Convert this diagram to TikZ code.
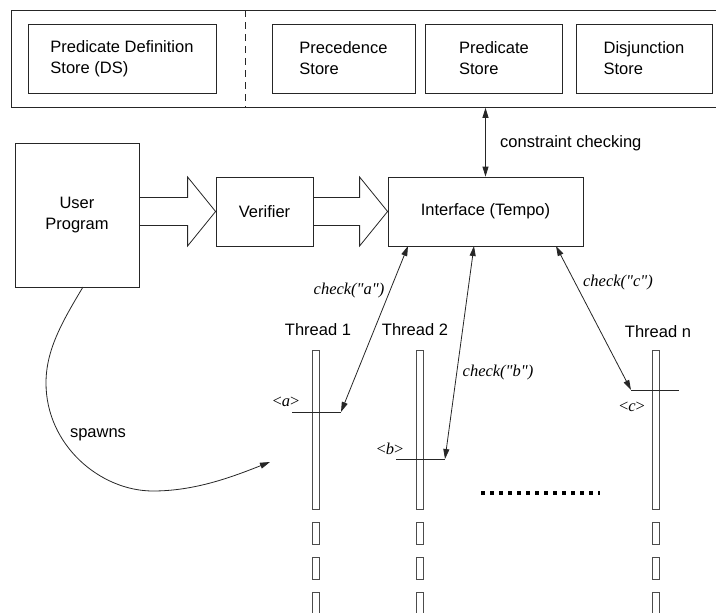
\documentclass[tikz,border=0pt]{standalone}
\usepackage{fontspec}
\setmainfont{Liberation Sans}
\newfontfamily\tms{Liberation Serif}
\usetikzlibrary{arrows.meta,calc}

\tikzset{
  box/.style={draw=black!85, line width=0.8pt, fill=white, inner sep=0pt, align=left,
              font=\fontsize{16.5}{21}\selectfont},
  lbl/.style={inner sep=0pt, font=\fontsize{16.5}{21}\selectfont},
  ital/.style={inner sep=0pt, font=\fontsize{16.5}{21}\selectfont\tms\itshape},
  link/.style={draw=black!85, line width=0.8pt},
  dbl/.style={link, {Triangle[length=10pt,width=6pt]}-{Triangle[length=10pt,width=6pt]}},
  onearrow/.style={link, -{Triangle[length=10pt,width=6pt]}},
  fat/.style={draw=black!85, line width=0.8pt, line join=miter},
  bar/.style={draw=black!70, line width=0.8pt, fill=white},
  tick/.style={draw=black!85, line width=0.8pt}
}

% draws a hollow block arrow from node #1 into the west side of node #2
\newcommand\fatarrow[2]{%
  \draw[fat] ($(#1.east |- #2.west)+(0,-14)$) -| ($(#2.west)+(-28,-34.5)$)
     -- (#2.west) -- ($(#2.west)+(-28,34.5)$) |- ($(#1.east |- #2.west)+(0,14)$);}

% one thread lane: long bar plus the broken continuation below it
\newcommand\lane[1]{%
  \draw[bar] (#1-3.5,350) rectangle (#1+3.5,509);
  \foreach \t in {522,557,592}{\draw[bar] (#1-3.5,\t) rectangle (#1+3.5,\t+22);}}

\begin{document}
\begin{tikzpicture}[x=1pt,y=-1pt]
\path[use as bounding box] (0,0) rectangle (716,613);
\clip (0,0) rectangle (716,613);

% store frame with its four stores
\node[box, minimum width=709pt, minimum height=97pt, anchor=north west] (frame) at (11,10) {};
\draw[link, dash pattern=on 7pt off 5pt] (245,10) -- (245,107);
\node[box, minimum width=188pt, minimum height=69pt] (pds) at (122,58.5) {Predicate Definition\\Store (DS)};
\node[box, minimum width=143pt, minimum height=69pt] (prec) at (343.5,58.5) {Precedence\\Store};
\node[box, minimum width=137pt, minimum height=69pt] (pred) at (494,58.5) {Predicate\\Store};
\node[box, minimum width=136pt, minimum height=69pt] (disj) at (644,58.5) {Disjunction\\Store};

% tool chain
\node[box, align=center, minimum width=124pt, minimum height=144pt] (up) at (77,215) {User\\Program};
\node[box, minimum width=97pt, minimum height=69pt] (ver) at (264.5,211.5) {Verifier};
\node[box, minimum width=195pt, minimum height=69pt] (iface) at (485.5,211.5) {Interface (Tempo)};

\fatarrow{up}{ver}
\fatarrow{ver}{iface}

\draw[dbl] (iface.north) -- (iface.north |- frame.south);
\node[lbl, anchor=west] (cc) at (500,143) {constraint checking};

% thread lanes
\lane{316}
\lane{420}
\lane{655.5}
\node[lbl] (t1) at (318,330) {Thread 1};
\node[lbl] (t2) at (415,330) {Thread 2};
\node[lbl] (tn) at (658,332) {Thread n};

\draw[line width=4pt, dash pattern=on 4pt off 5pt] (481,493) -- (600,493);

% check points on each thread
\coordinate (pa) at (341,412);
\coordinate (pb) at (445,459);
\coordinate (pc) at (631,390);
\coordinate (ia) at (408,246);
\coordinate (ib) at (474,246);
\coordinate (ic) at (556,246);
\draw[tick] (292,412) -- (pa);
\draw[tick] (396,459) -- (pb);
\draw[tick] (pc) -- (679,390);

\draw[dbl] (ia) -- (pa);
\draw[dbl] (ib) -- (pb);
\draw[dbl] (ic) -- (pc);

\node[ital] (la) at (349,291) {check("a")};
\node[ital] (lb) at (498,373) {check("b")};
\node[ital] (lc) at (618,283) {check("c")};
\node[ital] (ma) at (286,402) {\upshape<\itshape a\upshape>};
\node[ital] (mb) at (390,449) {\upshape<\itshape b\upshape>};
\node[ital] (mc) at (632,407) {\upshape<\itshape c\upshape>};

% spawn edge from the user program to the threads
\coordinate (sp0) at (83,287);
\coordinate (sp1) at (270,462);
\draw[onearrow] (sp0) .. controls (62,322) and (46,350) .. (46,383)
   .. controls (46,445) and (100,491) .. (153,491)
   .. controls (195,491) and (232,477) .. (sp1);
\node[lbl] (spw) at (98,435) {spawns};
\end{tikzpicture}
\end{document}
